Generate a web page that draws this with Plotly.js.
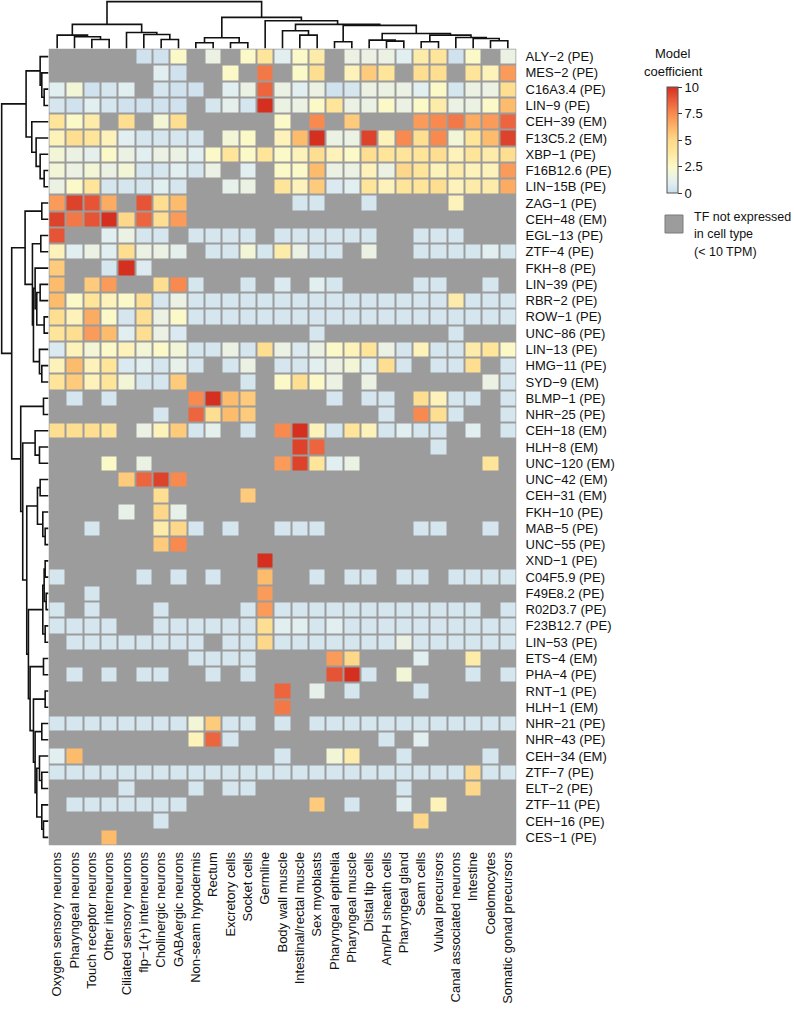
<!DOCTYPE html>
<html><head><meta charset="utf-8">
<script src="https://cdn.plot.ly/plotly-3.0.1.min.js"></script>
<style>html,body{margin:0;padding:0;background:#fff}#chart{width:794px;height:1020px}</style>
</head><body><div id="chart"></div>
<script>
const _ = null;
const cellTypes = ["Oxygen sensory neurons","Pharyngeal neurons","Touch receptor neurons","Other interneurons","Ciliated sensory neurons","flp\u22121(+) interneurons","Cholinergic neurons","GABAergic neurons","Non-seam hypodermis","Rectum","Excretory cells","Socket cells","Germline","Body wall muscle","Intestinal/rectal muscle","Sex myoblasts","Pharyngeal epithelia","Pharyngeal muscle","Distal tip cells","Am/PH sheath cells","Pharyngeal gland","Seam cells","Vulval precursors","Canal associated neurons","Intestine","Coelomocytes","Somatic gonad precursors"];
const tfNames = ["ALY\u22122 (PE)","MES\u22122 (PE)","C16A3.4 (PE)","LIN\u22129 (PE)","CEH\u221239 (EM)","F13C5.2 (EM)","XBP\u22121 (PE)","F16B12.6 (PE)","LIN\u221215B (PE)","ZAG\u22121 (PE)","CEH\u221248 (EM)","EGL\u221213 (PE)","ZTF\u22124 (PE)","FKH\u22128 (PE)","LIN\u221239 (PE)","RBR\u22122 (PE)","ROW\u22121 (PE)","UNC\u221286 (PE)","LIN\u221213 (PE)","HMG\u221211 (PE)","SYD\u22129 (EM)","BLMP\u22121 (PE)","NHR\u221225 (PE)","CEH\u221218 (EM)","HLH\u22128 (EM)","UNC\u2212120 (EM)","UNC\u221242 (EM)","CEH\u221231 (EM)","FKH\u221210 (PE)","MAB\u22125 (PE)","UNC\u221255 (PE)","XND\u22121 (PE)","C04F5.9 (PE)","F49E8.2 (PE)","R02D3.7 (PE)","F23B12.7 (PE)","LIN\u221253 (PE)","ETS\u22124 (EM)","PHA\u22124 (PE)","RNT\u22121 (PE)","HLH\u22121 (EM)","NHR\u221221 (PE)","NHR\u221243 (PE)","CEH\u221234 (EM)","ZTF\u22127 (PE)","ELT\u22122 (PE)","ZTF\u221211 (PE)","CEH\u221216 (PE)","CES\u22121 (PE)"];
// model coefficients, one row per TF (null = TF not expressed)
const coefficients = [
[_,_,_,_,_,0.3,0.3,2.5,_,1.5,_,2.5,4,1, 2.5,3.5,_,1.5,1.5,1.5,1,3.5,4,0.3,2.5,_,1.5],
[_,_,_,_,_,_,1,0.3,_,_,2.5,_,8,_, 2.5,4.5,_,3,5.5,4,_,4.5,4.5,_,4,3,7],
[1,2,0.3,0.5,1,_,0.5,0.3,0.3,_,1,1.5,8.5,1.5, 1,1.5,0.3,0.5,1.5,1.5,1.5,1,2.5,0.5,1.5,1.5,4.5],
[0.5,0.3,1,0.5,0.3,0.3,0.3,0.3,_,0.5,1.2,0.5,10,1.5, 1.5,2.5,4,1.5,1.5,2.5,1.5,2.5,3.5,1.5,1.5,2.5,6],
[4,2.5,3.5,_,4.5,_,2,4.5,_,_,_,_,_,2.5, _,7.5,_,5.5,_,_,_,7,7.5,8,6.5,7,8.5],
[3,4.5,4,3,1,0.5,0.5,0.5,0.5,_,2,2.5,_,3, 6,10,1.5,1.5,9.5,3,7.5,4.5,7.5,2,4,6,9.5],
[2,1.5,1.2,2.5,1.5,1,1.5,1.5,1,2.5,4,2.5,4,2.5, 3,4.5,3,2.5,4.5,4,4,4,4.5,3,4,3.5,4.5],
[2,1.5,2,1.5,2,0.5,0.5,1,0.5,1.5,_,1,_,2.5, 2.5,6,1.5,1.5,3,1.5,5,4,3,3.5,3,3,7],
[1.5,2.5,4,0.5,0.5,0.5,1,0.5,_,_,1.3,1.5,_,4, 3,5.5,0.7,1,4,3,4,4,4.5,3,3.5,3.5,6.5],
[7,9.5,9,6.5,_,9,4.5,6,_,_,_,_,_,_, 0.5,0.5,_,_,0.5,_,_,_,_,3,_,_,_],
[9.5,8,9,10,5,8.5,4.5,7,_,_,_,_,_,_, _,_,_,_,_,_,_,_,_,_,_,_,_],
[9,_,_,1,1.5,0.5,0.5,_,0.5,0.5,0.5,0.5,_,0.5, 0.5,0.5,0.5,0.5,0.5,_,_,0.5,0.5,0.5,_,_,_],
[3,1,1.5,1,4.5,1.5,1.5,1.2,_,0.5,0.5,2,0.5,3.5, 1.5,0.5,0.5,_,1.5,_,_,0.5,0.5,0.5,0.5,1,0.5],
[5.5,_,_,0.5,10,0.8,_,_,_,_,_,_,_,_, _,_,_,_,_,_,_,_,_,_,_,_,_],
[6,_,5.5,7,_,_,4.5,7.5,0.5,_,_,0.5,_,0.7, _,1,0.5,_,_,_,_,0.5,0.5,_,_,0.5,_],
[6,2.5,4,3,2.5,4.5,0.5,1.5,0.5,0.5,0.5,0.5,0.5,0.5, 0.5,0.5,0.5,0.5,0.5,0.5,0.5,0.5,0.5,3.5,0.5,0.5,0.5],
[4.5,3,6.5,2.5,0.5,4.5,1.5,2.5,0.5,0.5,0.5,0.5,0.5,0.5, 0.5,0.5,0.5,0.5,0.5,0.5,0.5,0.5,0.5,0.5,0.5,0.5,0.5],
[4,4.5,7,6,1,4.5,1.5,0.7,_,_,_,_,_,_, _,0.5,_,_,_,_,_,_,_,0.5,_,_,_],
[0.7,3,2,2.5,3,2,2.5,2,0.5,0.5,1.5,0.5,4.5,1.5, 0.7,1.5,2.5,3,4,1.5,0.5,3,0.5,0.5,3.5,4,2.5],
[3,6,3,4,0.7,1,0.5,1.3,0.5,_,0.5,1.5,_,0.5, 0.5,1,1.5,2,1,4.5,0.5,_,0.5,0.5,4.5,_,0.5],
[4,5.5,3,4,2,0.5,0.5,5.5,_,_,_,0.5,_,2.5, 4.5,2.5,1.5,_,1.5,_,_,_,_,_,_,1.5,0.5],
[_,0.5,_,0.5,_,_,_,_,7.5,10,6,5.5,_,_, _,_,0.5,_,0.5,0.5,_,4.5,3,0.5,0.5,_,0.5],
[_,_,_,_,_,_,0.5,_,8.5,4.5,6,5.5,_,_, _,_,_,_,_,0.5,_,7.5,4.5,0.5,_,_,0.5],
[4.5,4.5,4.5,4,_,1.5,3,5.5,0.5,1.2,_,0.5,_,7.5, 10,3,0.5,4,3,0.5,1,0.5,0.5,_,1,_,0.5],
[_,_,_,_,_,_,_,_,_,_,_,_,_,_, 9.5,8.5,_,_,_,_,_,_,0.5,_,_,_,_],
[_,_,_,2.5,_,1.5,_,_,_,_,_,_,_,7, 9.5,4,1,1.5,_,_,_,_,_,_,_,4,_],
[_,_,_,_,5.5,8.5,9.5,7.5,_,_,_,_,_,_, _,_,_,_,_,_,_,_,_,_,_,_,_],
[_,_,_,_,_,_,4.5,_,_,_,_,5.5,_,_, _,_,_,_,_,_,_,_,_,_,_,_,_],
[_,_,_,_,1.3,_,5,1.3,_,_,_,_,_,_, _,_,_,_,_,_,_,_,_,_,_,_,_],
[_,_,0.5,_,_,_,3.5,5,0.5,_,0.5,_,_,0.5, 0.5,0.5,_,_,_,_,_,0.5,0.5,_,_,0.5,_],
[_,_,_,_,_,_,5.5,7.5,_,_,_,_,_,_, _,_,_,_,_,_,_,_,_,_,_,_,_],
[_,_,_,_,_,_,_,_,_,_,_,_,10,_, _,_,_,_,_,_,_,_,_,_,_,_,_],
[0.5,_,_,_,_,0.5,_,0.5,_,0.5,_,_,6,_, _,0.5,_,0.5,0.5,_,0.5,0.5,_,0.5,0.5,0.5,0.5],
[_,_,0.5,_,_,_,_,_,_,_,_,_,7,_, _,_,_,_,_,_,_,_,_,_,_,_,_],
[0.5,_,0.5,_,_,_,0.5,_,_,_,_,0.5,7,0.5, 0.5,0.5,0.5,0.5,0.5,0.5,0.5,0.5,0.5,0.5,0.5,_,0.5],
[0.5,0.5,0.5,0.5,_,_,0.5,0.5,0.5,0.5,0.5,0.5,4.5,1, 1,0.5,1,0.5,0.5,0.5,0.5,0.5,0.5,0.5,0.5,0.5,0.5],
[_,0.5,0.5,0.5,0.5,0.5,0.5,0.5,0.5,_,0.5,0.5,5,0.5, 0.5,0.5,0.5,0.5,0.5,0.5,1.5,0.5,0.5,0.5,0.5,0.5,0.5],
[_,_,_,_,_,_,_,_,0.5,0.5,0.5,0.5,_,_, _,_,7,5,_,_,_,1,_,_,3.5,_,_],
[_,0.5,_,0.5,_,0.5,0.5,_,_,0.5,_,0.5,_,_, _,_,9,10,0.5,_,2,_,_,_,0.5,_,0.5],
[_,_,_,_,_,_,_,_,_,_,_,_,_,8.5, _,1.3,_,0.5,_,_,_,0.5,_,_,_,_,_],
[_,_,_,_,_,_,_,_,_,_,_,_,_,8, _,_,_,_,_,_,_,_,_,_,_,_,_],
[0.5,0.5,0.5,0.5,0.5,0.5,0.5,0.5,2,5.5,0.5,0.5,_,0.5, _,0.5,0.5,0.5,0.5,0.5,0.5,0.5,0.5,0.5,0.5,0.5,0.5],
[_,_,_,_,_,_,_,_,3,8.5,0.5,_,_,_, _,_,_,_,_,0.5,_,1,_,_,_,_,_],
[1,6,_,_,_,_,_,_,_,_,_,_,_,0.5, _,_,2,3.5,_,_,0.5,_,_,_,_,0.5,_],
[0.5,0.5,0.5,0.5,0.5,0.5,0.5,0.5,0.5,0.5,0.5,0.5,0.5,0.5, 0.5,0.5,0.5,0.5,0.5,0.5,0.5,0.5,0.5,0.5,5,0.5,0.5],
[_,_,_,_,0.5,_,_,_,0.5,_,0.5,0.5,_,_, _,_,_,_,_,_,0.5,_,_,_,5,_,_],
[_,0.5,0.5,0.5,0.5,0.5,0.5,0.5,_,_,_,_,_,_, _,5.5,_,0.5,_,_,1,_,3,_,_,_,_],
[_,_,_,_,_,_,0.5,_,_,_,_,_,_,_, _,_,_,_,_,_,_,5,_,_,_,_,_],
[_,_,_,6,_,_,_,_,_,_,_,_,_,_, _,_,_,_,_,_,_,_,_,_,_,_,_]
];
const colorbarTicks = [0, 2.5, 5, 7.5, 10];
// dendrogram merges: [childA, childB, height]; ids >= n refer to earlier merges
const colLinkage = [
[2,3,27],[1,27,35],[0,28,40],[6,7,27],[5,30,42],[4,31,48],[29,32,72],
[8,9,17],[10,11,17],[34,35,32],[14,15,40],[13,37,53],[16,17,20],[19,20,22],
[18,40,25],[21,22,20],[25,26,23],[24,43,30],[23,44,33],[42,45,40],[41,46,45],
[39,47,69],[38,48,72],[12,49,83],[36,50,93],[33,51,140]
];
const rowLinkage = [
[2,3,13],[1,49,20],[0,50,25],[7,8,13],[6,52,25],[5,53,37],[4,54,50],[51,55,67],
[9,10,20],[11,12,23],[14,15,25],[16,17,13],[59,60,35],[13,61,40],[19,20,20],[18,63,27],[62,64,45],[58,65,48],[57,66,70],
[21,22,15],[24,25,27],[23,69,40],[26,27,25],[29,30,10],[28,72,17],[71,73,33],
[31,32,10],[33,34,7],[75,76,13],[35,36,10],[77,78,17],
[37,38,15],[39,40,10],[41,42,20],[44,45,20],[47,48,15],[46,84,20],[43,83,27],[86,85,35],[82,87,40],[81,88,45],[80,89,55],
[79,90,60],[74,91,65],[70,92,77],[68,93,83],[67,94,110],[56,95,140]
];

function dendroSegments(n, linkage){
  const pos = [], hgt = [];
  for (let i=0;i<n;i++){pos.push(i);hgt.push(0);}
  const p=[], h=[];
  linkage.forEach(([a,b,ht])=>{
    p.push(pos[a],pos[a],pos[b],pos[b],null);
    h.push(hgt[a],ht,ht,hgt[b],null);
    pos.push((pos[a]+pos[b])/2); hgt.push(ht);
  });
  return {p,h};
}
const colD = dendroSegments(cellTypes.length, colLinkage);
const rowD = dendroSegments(tfNames.length, rowLinkage);

const W=794,H=1020;
const hx0=48.5,hx1=516.5,hy0=48.5,hy1=845.5;
const fx=v=>v/W, fy=v=>1-v/H;
const font="Liberation Sans, Arial, Helvetica, sans-serif";
const idxX = cellTypes.map((_,i)=>i), idxY = tfNames.map((_,i)=>i);

const data = [
 {type:'heatmap', z:coefficients, x:idxX, y:idxY, xaxis:'x', yaxis:'y',
  zmin:0, zmax:10, xgap:2, ygap:2, hoverinfo:'skip',
  colorscale:[[0,'#c7ddec'],[0.1,'#e2eff1'],[0.25,'#fcf9c8'],[0.4,'#fee59a'],[0.5,'#fed88a'],[0.6,'#fdbc6c'],[0.75,'#f88a4f'],[0.875,'#ea5c3a'],[1,'#d5301f']],
  colorbar:{x:fx(667), xanchor:'left', xpad:0, y:fy(140), yanchor:'middle', len:106, lenmode:'pixels', ypad:0,
    thickness:11, thicknessmode:'pixels', outlinewidth:1, outlinecolor:'#555',
    ticks:'outside', ticklen:4, tickwidth:1, tickcolor:'#333',
    tickvals:colorbarTicks, ticktext:colorbarTicks.map(String), tickfont:{family:font,size:13,color:'#111'}}
 },
 {type:'scatter', mode:'lines', x:colD.p, y:colD.h, xaxis:'x2', yaxis:'y2', line:{color:'#111',width:1.6}, hoverinfo:'skip', showlegend:false},
 {type:'scatter', mode:'lines', x:rowD.h, y:rowD.p, xaxis:'x3', yaxis:'y3', line:{color:'#111',width:1.6}, hoverinfo:'skip', showlegend:false}
];

const layout = {
 width:W, height:H, margin:{l:0,r:0,t:0,b:0}, paper_bgcolor:'#fff', plot_bgcolor:'#fff',
 showlegend:false, font:{family:font,size:13,color:'#111'},
 xaxis:{domain:[fx(hx0),fx(hx1)], range:[-0.5,26.5], tickvals:idxX, ticktext:cellTypes, tickangle:-90,
   showgrid:false, zeroline:false, ticks:'', showline:false, automargin:false, ticklabelstandoff:3, tickfont:{family:font,size:13,color:'#111'}},
 yaxis:{domain:[fy(hy1),fy(hy0)], range:[48.5,-0.5], tickvals:idxY, ticktext:tfNames, side:'right',
   showgrid:false, zeroline:false, ticks:'', showline:false, automargin:false, ticklabelstandoff:8, tickfont:{family:font,size:13,color:'#111'}},
 xaxis2:{domain:[fx(hx0),fx(hx1)], range:[-0.5,26.5], anchor:'y2', visible:false},
 yaxis2:{domain:[fy(hy0),1], range:[0,145], anchor:'x2', visible:false},
 xaxis3:{domain:[0,fx(hx0)], range:[145,0], anchor:'y3', visible:false},
 yaxis3:{domain:[fy(hy1),fy(hy0)], range:[48.5,-0.5], anchor:'x3', visible:false},
 shapes:[
  {type:'rect', xref:'x', yref:'y', x0:-0.5, x1:26.5, y0:-0.5, y1:48.5, fillcolor:'#9c9c9c', line:{width:0}, layer:'below'},
  {type:'rect', xref:'paper', yref:'paper', x0:fx(665), x1:fx(683), y0:fy(233), y1:fy(215), fillcolor:'#9c9c9c', line:{color:'#7a7a7a',width:1}}
 ],
 annotations:[
  {xref:'paper',yref:'paper',x:fx(673),y:fy(53),text:'Model',showarrow:false,xanchor:'center',yanchor:'middle',font:{family:font,size:13,color:'#111'}},
  {xref:'paper',yref:'paper',x:fx(673),y:fy(72),text:'coefficient',showarrow:false,xanchor:'center',yanchor:'middle',font:{family:font,size:13,color:'#111'}},
  {xref:'paper',yref:'paper',x:fx(692),y:fy(217),text:'TF not expressed',showarrow:false,xanchor:'left',yanchor:'middle',font:{family:font,size:12.5,color:'#111'}},
  {xref:'paper',yref:'paper',x:fx(692),y:fy(234),text:'in cell type',showarrow:false,xanchor:'left',yanchor:'middle',font:{family:font,size:12.5,color:'#111'}},
  {xref:'paper',yref:'paper',x:fx(692),y:fy(252),text:'(< 10 TPM)',showarrow:false,xanchor:'left',yanchor:'middle',font:{family:font,size:12.5,color:'#111'}}
 ]
};
Plotly.newPlot('chart', data, layout, {displayModeBar:false, staticPlot:true});
</script>
</body></html>
